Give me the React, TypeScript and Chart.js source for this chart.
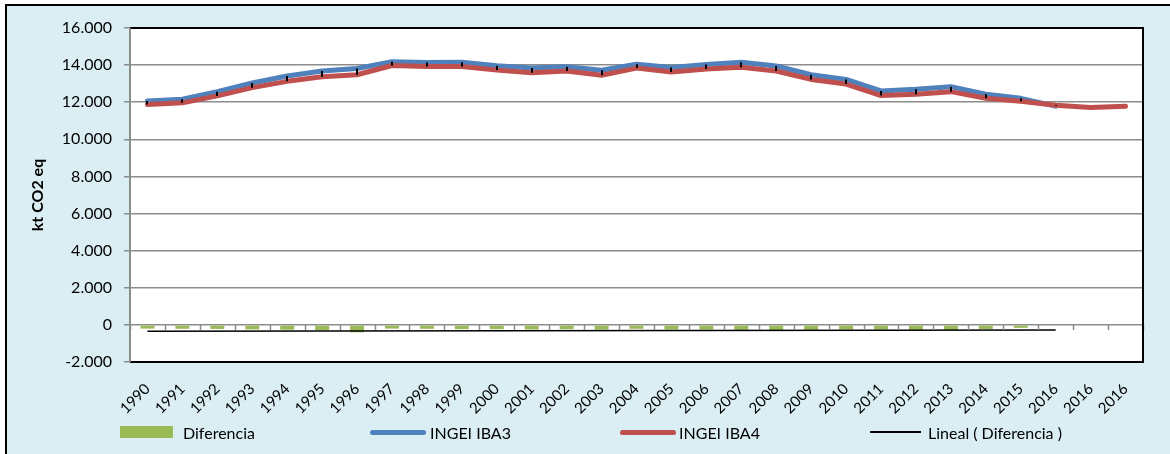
import React, { useEffect, useRef } from 'react';
import { Chart, registerables } from 'chart.js';

Chart.register(...registerables);

const years = [
  '1990', '1991', '1992', '1993', '1994', '1995', '1996', '1997', '1998', '1999',
  '2000', '2001', '2002', '2003', '2004', '2005', '2006', '2007', '2008', '2009',
  '2010', '2011', '2012', '2013', '2014', '2015', '2016', '2016', '2016',
];

const ingeiIba3: (number | null)[] = [
  12070, 12160, 12570, 13035, 13410, 13680, 13820, 14180, 14140, 14160,
  13960, 13840, 13910, 13720, 14050, 13875, 14035, 14160, 13950, 13480,
  13230, 12610, 12700, 12840, 12430, 12210, 11790, null, null,
];

const ingeiIba4: (number | null)[] = [
  11875, 11965, 12340, 12785, 13125, 13375, 13480, 13980, 13930, 13930,
  13730, 13590, 13680, 13455, 13840, 13625, 13785, 13890, 13680, 13230,
  12980, 12360, 12430, 12570, 12210, 12050, 11840, 11715, 11785,
];

const diferencia: (number | null)[] = [
  -200, -210, -220, -240, -260, -280, -400, -200, -210, -230,
  -230, -250, -230, -260, -210, -250, -250, -270, -330, -320,
  -250, -250, -270, -270, -220, -160, 50, null, null,
];

const trendStartIndex = 0;
const trendEndIndex = 26;
const trendStartValue = -340;
const trendEndValue = -270;

const yTickValues = [-2000, 0, 2000, 4000, 6000, 8000, 10000, 12000, 14000, 16000];

const seriesNames = ['Diferencia', 'INGEI IBA3', 'INGEI IBA4', 'Lineal ( Diferencia )'];
const colors = {
  diferencia: '#9BBB59',
  iba3: '#4F81BD',
  iba4: '#C0504D',
  trend: '#000000',
  grid: '#8C8C8C',
  panel: '#DAEEF3',
};

const FONT = 'Lato, "Open Sans", "Noto Sans", sans-serif';

function fmt(v: number): string {
  const s = Math.abs(v).toString().replace(/\B(?=(\d{3})+(?!\d))/g, '.');
  return (v < 0 ? '-' : '') + s;
}

const trendData = years.map((_, i) =>
  i === trendStartIndex ? trendStartValue : i === trendEndIndex ? trendEndValue : null
);

const plotPlugin = {
  id: 'plotDecor',
  beforeDraw(chart: any) {
    const { ctx, chartArea } = chart;
    ctx.save();
    ctx.fillStyle = '#ffffff';
    ctx.fillRect(chartArea.left, chartArea.top, chartArea.right - chartArea.left, chartArea.bottom - chartArea.top);
    ctx.restore();
  },
  afterDatasetsDraw(chart: any) {
    const { ctx } = chart;
    const x = chart.scales.x;
    const y = chart.scales.y;
    // high-low lines between the two series
    ctx.save();
    ctx.strokeStyle = '#000000';
    ctx.lineWidth = 2;
    ctx.beginPath();
    for (let i = 0; i < years.length; i++) {
      const a = ingeiIba3[i];
      const b = ingeiIba4[i];
      if (a == null || b == null) continue;
      const px = Math.round(x.getPixelForValue(i));
      ctx.moveTo(px, y.getPixelForValue(a));
      ctx.lineTo(px, y.getPixelForValue(b));
    }
    ctx.stroke();
    ctx.restore();
  },
  afterDraw(chart: any) {
    const { ctx, chartArea } = chart;
    const x = chart.scales.x;
    const y = chart.scales.y;
    const y0 = Math.round(y.getPixelForValue(0));
    ctx.save();
    // category tick marks on the zero axis
    ctx.strokeStyle = colors.grid;
    ctx.lineWidth = 1.5;
    ctx.beginPath();
    for (let k = 0; k <= years.length; k++) {
      const bx = Math.round(x.getPixelForValue(k - 0.5)) + 0.5;
      ctx.moveTo(bx, y0);
      ctx.lineTo(bx, y0 + 5);
    }
    ctx.stroke();
    // plot area border
    ctx.strokeStyle = '#000000';
    ctx.lineWidth = 2;
    ctx.beginPath();
    ctx.moveTo(chartArea.left, chartArea.top);
    ctx.lineTo(chartArea.right, chartArea.top);
    ctx.lineTo(chartArea.right, chartArea.bottom);
    ctx.lineTo(chartArea.left, chartArea.bottom);
    ctx.stroke();
    // left value axis line
    ctx.strokeStyle = colors.grid;
    ctx.lineWidth = 2;
    ctx.beginPath();
    ctx.moveTo(chartArea.left, chartArea.top);
    ctx.lineTo(chartArea.left, chartArea.bottom);
    ctx.stroke();
    ctx.restore();
  },
};

export default function App() {
  const canvasRef = useRef<HTMLCanvasElement | null>(null);

  useEffect(() => {
    if (!canvasRef.current) return;
    const chart = new Chart(canvasRef.current, {
      type: 'bar',
      data: {
        labels: years,
        datasets: [
          {
            type: 'line',
            label: seriesNames[3],
            data: trendData,
            borderColor: colors.trend,
            borderWidth: 1.5,
            pointRadius: 0,
            spanGaps: true,
            order: 0,
          } as any,
          {
            type: 'line',
            label: seriesNames[2],
            data: ingeiIba4,
            borderColor: colors.iba4,
            borderWidth: 5,
            pointRadius: 0,
            borderCapStyle: 'round',
            borderJoinStyle: 'round',
            tension: 0,
            order: 1,
          } as any,
          {
            type: 'line',
            label: seriesNames[1],
            data: ingeiIba3,
            borderColor: colors.iba3,
            borderWidth: 5,
            pointRadius: 0,
            borderCapStyle: 'round',
            borderJoinStyle: 'round',
            tension: 0,
            order: 2,
          } as any,
          {
            type: 'bar',
            label: seriesNames[0],
            data: diferencia,
            backgroundColor: colors.diferencia,
            barPercentage: 0.4,
            categoryPercentage: 1,
            order: 3,
          } as any,
        ],
      },
      options: {
        animation: false,
        responsive: true,
        maintainAspectRatio: false,
        layout: { padding: { left: 0, top: 28, right: 27, bottom: 0 } },
        plugins: {
          legend: { display: false },
          tooltip: { enabled: false },
        },
        scales: {
          x: {
            type: 'category',
            offset: true,
            grid: { display: false },
            border: { display: false },
            ticks: {
              autoSkip: false,
              minRotation: 45,
              maxRotation: 45,
              padding: 10,
              color: '#000000',
              font: { family: FONT, size: 15 },
            },
            afterFit(scale: any) {
              scale.height = 92;
            },
          },
          y: {
            min: -2000,
            max: 16000,
            afterBuildTicks(scale: any) {
              scale.ticks = yTickValues.map((v) => ({ value: v }));
            },
            grid: {
              color: colors.grid,
              lineWidth: 1.5,
              tickLength: 6,
              tickColor: colors.grid,
            },
            border: { display: true, color: colors.grid, width: 2 },
            ticks: {
              padding: 12,
              color: '#000000',
              font: { family: FONT, size: 16 },
              callback: (v: any) => fmt(Number(v)),
            },
            title: {
              display: true,
              text: 'kt CO2 eq',
              color: '#000000',
              font: { family: FONT, size: 16, weight: 'bold' },
              padding: { top: 28, bottom: 0 },
            },
            afterFit(scale: any) {
              scale.width = 130;
            },
          },
        },
      } as any,
      plugins: [plotPlugin],
    });
    return () => chart.destroy();
  }, []);

  const legendItems = [
    { name: seriesNames[0], kind: 'box', color: colors.diferencia, w: 53, gap: 10 },
    { name: seriesNames[1], kind: 'thick', color: colors.iba3, w: 56, gap: 4 },
    { name: seriesNames[2], kind: 'thick', color: colors.iba4, w: 56, gap: 3 },
    { name: seriesNames[3], kind: 'thin', color: colors.trend, w: 51, gap: 7 },
  ];

  return (
    <div
      style={{
        position: 'absolute',
        left: 0,
        top: 0,
        width: 1170,
        height: 454,
        overflow: 'hidden',
        background: '#ffffff',
      }}
    >
      <div
        style={{
          position: 'absolute',
          left: 5,
          top: 4,
          width: 1200,
          height: 500,
          background: colors.panel,
          borderLeft: '2px solid #000',
          borderTop: '2px solid #000',
        }}
      />
      <div style={{ position: 'absolute', left: 0, top: 0, width: 1170, height: 454 }}>
        <canvas ref={canvasRef} />
      </div>
      {legendItems.map((it, i) => (
        <div
          key={i}
          style={{
            position: 'absolute',
            left: 120 + i * 250,
            top: 421,
            height: 22,
            display: 'flex',
            alignItems: 'center',
            fontFamily: FONT,
            fontSize: 16,
            color: '#000',
            whiteSpace: 'nowrap',
          }}
        >
          <div
            style={{
              width: it.w,
              height: it.kind === 'box' ? 12 : it.kind === 'thick' ? 5 : 1.5,
              background: it.color,
              borderRadius: it.kind === 'thick' ? 3 : 0,
              marginRight: it.gap,
            }}
          />
          <span>{it.name}</span>
        </div>
      ))}
    </div>
  );
}
